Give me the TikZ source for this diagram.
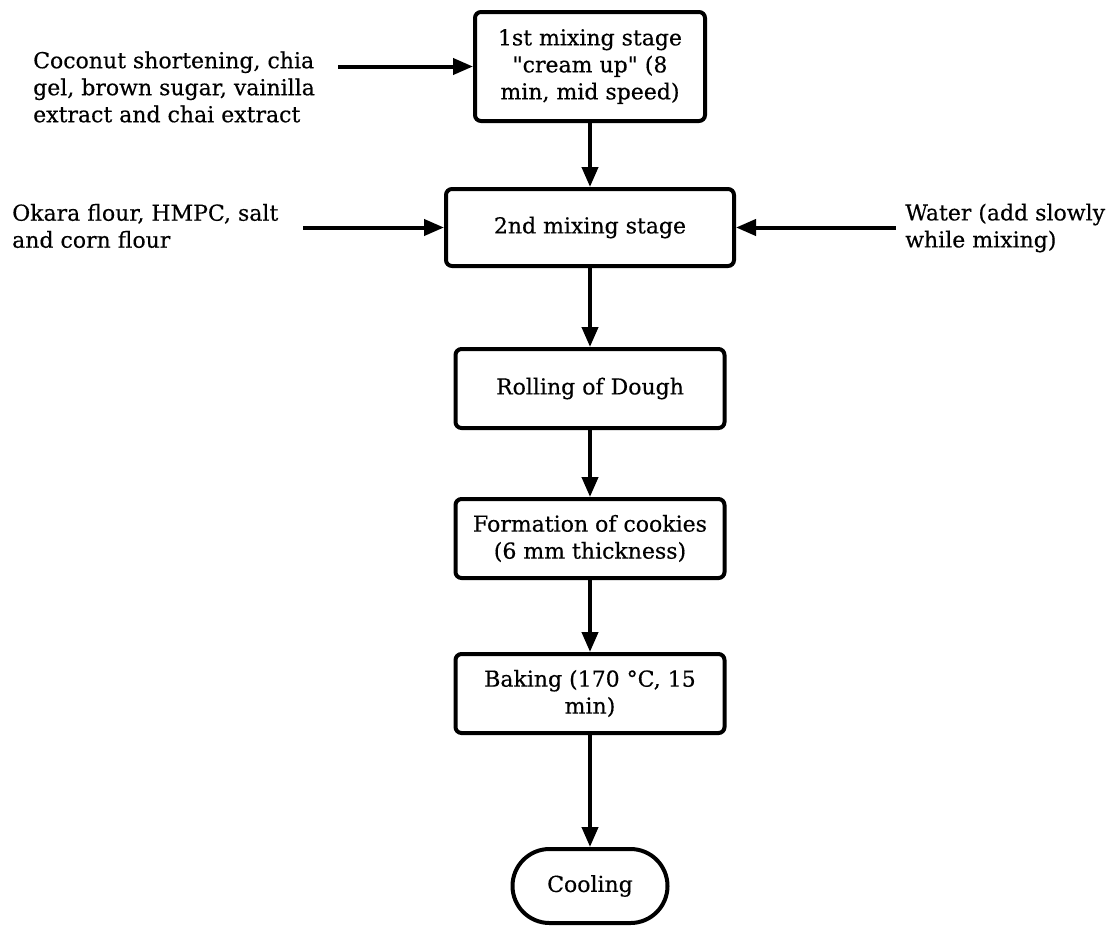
\documentclass[tikz,border=0pt]{standalone}
\usepackage{fontspec}
\setmainfont{DejaVu Serif}[FakeBold=0.4]
\usetikzlibrary{positioning,arrows.meta}

\begin{document}
\begin{tikzpicture}[x=1pt, y=-1pt,
        stage/.style={draw, line width=4pt, rounded corners=6pt, align=center,
            minimum width=269pt, minimum height=79pt, inner sep=2pt,
            font=\fontsize{22}{27}\selectfont},
        feed/.style={align=left, inner sep=0pt, anchor=west,
            font=\fontsize{22}{27}\selectfont},
        flow/.style={line width=4pt, -{Triangle[length=20pt, width=16pt]}}]

        \useasboundingbox (0,0) rectangle (1113,927);

        \node[stage, minimum width=230pt, minimum height=109pt] (mix1) at (590,66.5) {1st mixing stage\\\textquotedbl cream up\textquotedbl{} (8\\min, mid speed)};
        \node[stage, minimum width=288pt, minimum height=77pt] (mix2) [below=64pt of mix1] {2nd mixing stage};
        \node[stage] (roll) [below=79pt of mix2] {Rolling of Dough};
        \node[stage] (form) [below=67pt of roll] {Formation of cookies\\(6 mm thickness)};
        \node[stage] (bake) [below=72pt of form] {Baking (170 °C, 15\\min)};
        \node[stage, rounded corners=37pt, minimum width=155pt, minimum height=74pt] (cool) [below=112pt of bake] {Cooling};

        \node[feed] (in1) at (33,87) {Coconut shortening, chia\\gel, brown sugar, vainilla\\extract and chai extract};
        \node[feed] (in2) at (12,226) {Okara flour, HMPC, salt\\and corn flour};
        \node[feed] (in3) at (905,228) {Water (add slowly\\while mixing)};

        \coordinate (s1) at ([xshift=-135pt]mix1.west);
        \coordinate (s2) at ([xshift=-141pt]mix2.west);
        \coordinate (s3) at ([xshift=160pt]mix2.east);

        \draw[flow] (s1) -- (mix1.west);
        \draw[flow] (s2) -- (mix2.west);
        \draw[flow] (s3) -- (mix2.east);
        \draw[flow] (mix1) -- (mix2);
        \draw[flow] (mix2) -- (roll);
        \draw[flow] (roll) -- (form);
        \draw[flow] (form) -- (bake);
        \draw[flow] (bake) -- (cool);
    \end{tikzpicture}
\end{document}
